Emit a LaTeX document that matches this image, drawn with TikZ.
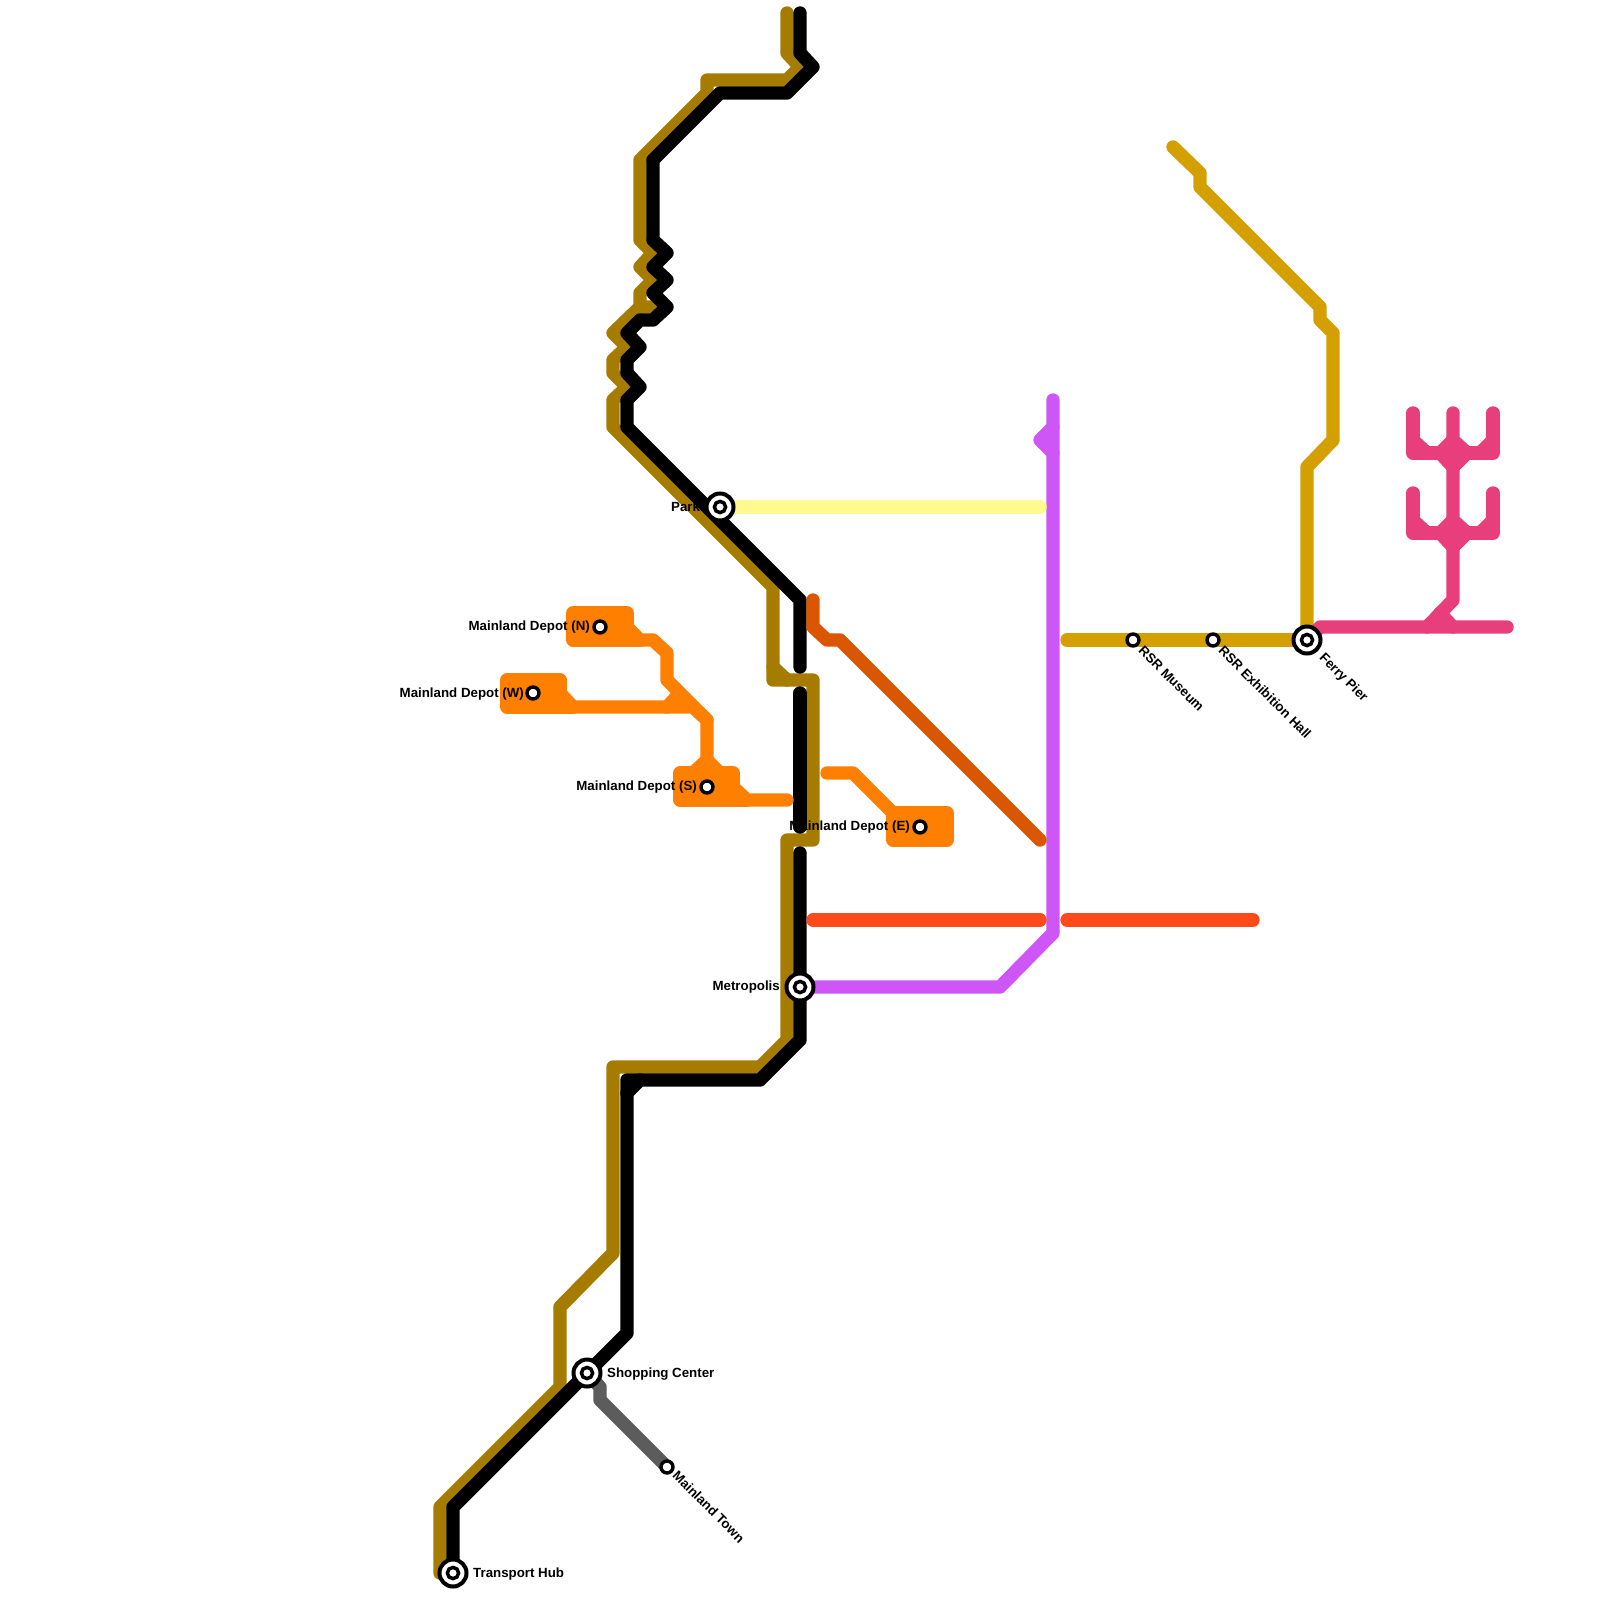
\documentclass[tikz,border=0pt]{standalone}
\usepackage{fontspec}
\setmainfont{Liberation Sans}
\pgfdeclarelayer{lines}
\pgfsetlayers{lines,main}
\definecolor{cbrown}{HTML}{A67C00}
\definecolor{cgold}{HTML}{D4A000}
\definecolor{cgray}{HTML}{5C5C5C}
\definecolor{cpurple}{HTML}{CE56F7}
\definecolor{cyellowl}{HTML}{FFF98F}
\definecolor{cred}{HTML}{FF4A1C}
\definecolor{cdark}{HTML}{DB5600}
\definecolor{corange}{HTML}{FF8000}
\definecolor{cpink}{HTML}{E83E7C}
\tikzset{
  metro/.style={line width=13.4pt,line cap=round,line join=round},
  block/.style={metro,draw=corange,fill=corange},
  bigst/.style={circle,draw=black,fill=white,line width=4pt,minimum size=27pt,inner sep=0pt,
    path picture={\draw[black,line width=3.5pt] (path picture bounding box.center) circle (5.6pt);}},
  smallst/.style={circle,draw=black,fill=white,line width=3.4pt,minimum size=12pt,inner sep=0pt},
  lab/.style={font=\fontsize{13.3}{13.3}\selectfont\bfseries,inner sep=0pt,text height=9.6pt,text depth=0pt,text=black},
  rlab/.style={lab,rotate=-45,anchor=west}
}
\begin{document}
\begin{tikzpicture}[x=1pt,y=-1pt]
\useasboundingbox (0,0) rectangle (1600,1600);
% labels
\node[lab,anchor=west] (lpark) at (671,507) {Park};
\node[lab,anchor=east] (lmetro) at (780,986) {Metropolis};
\node[lab,anchor=west] (lshop) at (607,1373) {Shopping Center};
\node[lab,anchor=west] (lhub) at (473,1573) {Transport Hub};
\node[lab,anchor=east] (ldn) at (590,626) {Mainland Depot (N)};
\node[lab,anchor=east] (ldw) at (524,693) {Mainland Depot (W)};
\node[lab,anchor=east] (lds) at (697,786) {Mainland Depot (S)};
\node[lab,anchor=east] (lde) at (910,826) {Mainland Depot (E)};
\node[rlab] (ltown) at (675,1473) {Mainland Town};
\node[rlab] (lmus) at (1141,648) {RSR Museum};
\node[rlab] (lexh) at (1221,648) {RSR Exhibition Hall};
\node[rlab] (lfer) at (1322,655) {Ferry Pier};
% stations
\node[bigst] (park) at (720,507) {};
\node[bigst] (metropolis) at (800,987) {};
\node[bigst] (shopping) at (587,1373) {};
\node[bigst] (hub) at (453,1573) {};
\node[bigst] (ferry) at (1307,640) {};
\node[smallst] (depotn) at (600,627) {};
\node[smallst] (depotw) at (533,693) {};
\node[smallst] (depots) at (707,787) {};
\node[smallst] (depote) at (920,827) {};
\node[smallst] (town) at (667,1467) {};
\node[smallst] (museum) at (1133,640) {};
\node[smallst] (exhibition) at (1213,640) {};
\begin{pgfonlayer}{lines}
% brown
\draw[metro,cbrown] (787,13) -- (787,53) -- (800,67) -- (787,80) -- (707,80) -- (707,93) -- (640,160) -- (640,240) -- (653,253) -- (640,267) -- (653,280) -- (640,293) -- (640,307) -- (653,307) -- (640,307) -- (613,333) -- (627,347) -- (613,360) -- (613,373) -- (627,387) -- (613,400) -- (613,427) -- (773,587) -- (773,680) -- (813,680) -- (813,840) -- (787,840) -- (787,1040) -- (760,1067) -- (613,1067) -- (613,1253) -- (560,1307) -- (560,1387) -- (440,1507) -- (440,1573);
\draw[metro,cbrown] (773,667) -- (787,680);
% black
\draw[metro,black] (800,13) -- (800,53) -- (813,67) -- (787,93) -- (720,93) -- (653,160) -- (653,240) -- (667,253) -- (653,267) -- (667,280) -- (653,293) -- (667,307) -- (653,320) -- (640,320) -- (627,333) -- (640,347) -- (627,360) -- (627,373) -- (640,387) -- (627,400) -- (627,427) -- (800,600) -- (800,667);
\draw[metro,black] (800,693) -- (800,827);
\draw[metro,black] (800,853) -- (metropolis.center) -- (800,1040) -- (760,1080) -- (627,1080) -- (627,1333) -- (shopping.center) -- (453,1507) -- (hub.center);
\draw[metro,black] (640,1080) -- (627,1093);
% gray
\draw[metro,cgray] (shopping.center) -- (600,1387) -- (600,1400) -- (town.center);
% purple
\draw[metro,cpurple] (metropolis.center) -- (1000,987) -- (1053,933) -- (1053,400);
\draw[metro,cpurple] (1053,427) -- (1040,440) -- (1053,453);
% yellow
\draw[metro,cyellowl] (park.center) -- (1040,507);
% red
\draw[metro,cred] (813,920) -- (1040,920);
\draw[metro,cred] (1067,920) -- (1253,920);
% dark orange
\draw[metro,cdark] (813,600) -- (813,627) -- (827,640) -- (840,640) -- (1040,840);
% orange
\draw[block] (573,613) rectangle (627,640);
\draw[block] (507,680) rectangle (560,707);
\draw[block] (680,773) rectangle (733,800);
\draw[block] (893,813) rectangle (947,840);
\draw[metro,corange] (depotn.center) -- (627,627) -- (640,640) -- (653,640) -- (667,653) -- (667,680) -- (707,720) -- (707,760) -- (depots.center);
\draw[metro,corange] (627,640) -- (640,640);
\draw[metro,corange] (depotw.center) -- (560,693) -- (573,707) -- (693,707) -- (707,720);
\draw[metro,corange] (560,707) -- (573,707);
\draw[metro,corange] (667,707) -- (680,693);
\draw[metro,corange] (693,773) -- (707,760) -- (720,773);
\draw[metro,corange] (depots.center) -- (733,787) -- (747,800) -- (787,800);
\draw[metro,corange] (733,800) -- (747,800);
\draw[metro,corange] (827,773) -- (853,773) -- (893,813) -- (depote.center);
% gold
\draw[metro,cgold] (1173,147) -- (1200,173) -- (1200,187) -- (1320,307) -- (1320,320) -- (1333,333) -- (1333,440) -- (1307,467) -- (ferry.center);
\draw[metro,cgold] (1067,640) -- (museum.center) -- (exhibition.center) -- (ferry.center);
% pink
\draw[metro,cpink] (ferry.center) -- (1320,627) -- (1507,627);
\draw[metro,cpink] (1453,413) -- (1453,600) -- (1427,627);
\draw[metro,cpink] (1440,613) -- (1453,627);
\draw[metro,cpink] (1413,413) -- (1413,453) -- (1493,453) -- (1493,413);
\draw[metro,cpink] (1413,440) -- (1427,453);
\draw[metro,cpink] (1493,440) -- (1480,453);
\draw[metro,cpink] (1440,453) -- (1453,440) -- (1467,453) -- (1453,467) -- cycle;
\draw[metro,cpink] (1413,493) -- (1413,533) -- (1493,533) -- (1493,493);
\draw[metro,cpink] (1413,520) -- (1427,533);
\draw[metro,cpink] (1493,520) -- (1480,533);
\draw[metro,cpink] (1440,533) -- (1453,520) -- (1467,533) -- (1453,547) -- cycle;
\end{pgfonlayer}
\end{tikzpicture}
\end{document}
